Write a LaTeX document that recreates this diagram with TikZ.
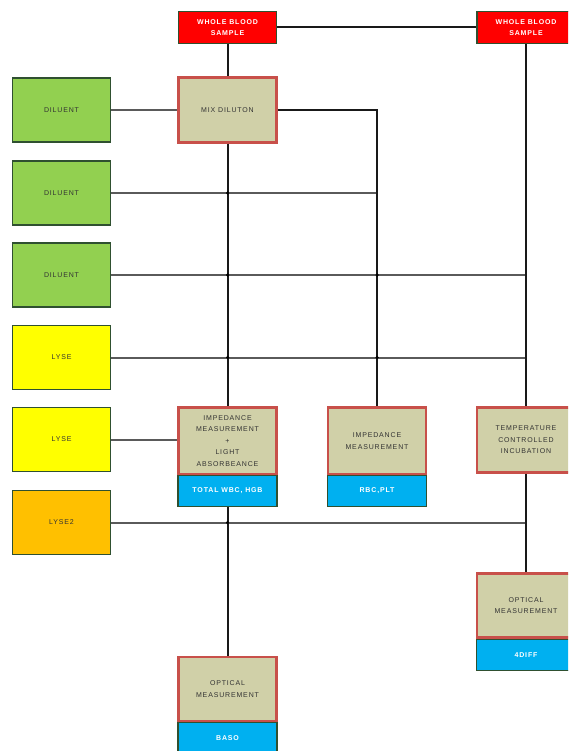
\documentclass[tikz,border=0pt]{standalone}
\usepackage{fontspec}
\setmainfont{Liberation Sans}
\newfontfamily\boxfont[LetterSpace=12]{Liberation Sans}
\definecolor{cred}{HTML}{FF0000}
\definecolor{cgreen}{HTML}{92D050}
\definecolor{cyellow}{HTML}{FFFF00}
\definecolor{corange}{HTML}{FFC000}
\definecolor{cbeige}{HTML}{D0D0A8}
\definecolor{cblue}{HTML}{00B0F0}
\definecolor{cframe}{HTML}{C8504A}
\definecolor{cdark}{HTML}{2F5030}
\definecolor{cline}{HTML}{5A5A5A}
\tikzset{
  every picture/.style={x=1pt, y=-1pt},
  every node/.style={font=\boxfont\fontsize{7}{11.5}\selectfont, align=center, inner sep=1pt},
  reagent/.style={draw=cdark, fill=#1, line width=1.3pt, text=black!80, minimum width=98pt, minimum height=64pt},
  sample/.style={draw=cdark, fill=cred, line width=1.3pt, text=white, font=\boxfont\fontsize{7}{11.5}\selectfont\bfseries, minimum width=98pt, minimum height=32pt},
  stage/.style={draw=cframe, fill=cbeige, line width=2.2pt, text=black!80, minimum width=98pt, minimum height=#1},
  stage/.default=64pt,
  result/.style={draw=cdark, fill=cblue, line width=1.3pt, text=white, font=\boxfont\fontsize{7}{11.5}\selectfont\bfseries, minimum width=99pt, minimum height=31pt},
  feed/.style={draw=cline, line width=2pt},
  link/.style={draw=black!90, line width=2pt},
  joint/.style={circle, fill=black, inner sep=0pt, minimum size=3.5pt},
}
\begin{document}
\begin{tikzpicture}
  \useasboundingbox (0,0) rectangle (568,751);
  \clip (0,0) rectangle (568,751);
  % samples on top
  \node[sample] (wbL) at (227.5,27.5) {WHOLE BLOOD\\SAMPLE};
  \node[sample] (wbR) at (526,27.5) {WHOLE BLOOD\\SAMPLE};
  % reagents on the left
  \node[reagent=cgreen] (dilA) at (61.5,110) {DILUENT};
  \node[reagent=cgreen] (dilB) at (61.5,193) {DILUENT};
  \node[reagent=cgreen] (dilC) at (61.5,275) {DILUENT};
  \node[reagent=cyellow] (lyseA) at (61.5,357.5) {LYSE};
  \node[reagent=cyellow] (lyseB) at (61.5,439.5) {LYSE};
  \node[reagent=corange] (lyseC) at (61.5,522.5) {LYSE2};
  % processing stages
  \node[stage=65pt] (mix) at (227.5,110) {MIX DILUTON};
  \node[stage=67pt] (impL) at (227.5,441) {IMPEDANCE\\MEASUREMENT\\+\\LIGHT\\ABSORBEANCE};
  \node[result] (resL) at (227.5,491) {TOTAL WBC, HGB};
  \node[stage=67pt] (impM) at (377,441) {IMPEDANCE\\MEASUREMENT};
  \node[result] (resM) at (377,491) {RBC,PLT};
  \node[stage=65pt] (incub) at (526,440) {TEMPERATURE\\CONTROLLED\\INCUBATION};
  \node[stage] (optR) at (526,605.5) {OPTICAL\\MEASUREMENT};
  \node[result] (resR) at (526,655) {4DIFF};
  \node[stage] (optL) at (227.5,689) {OPTICAL\\MEASUREMENT};
  \node[result] (resLo) at (227.5,738) {BASO};
  % reagent lines
  \draw[feed] (dilA.east) -- (mix.west |- dilA.east);
  \draw[feed] (dilB.east) -- (impM.north |- dilB.east);
  \draw[feed] (dilC.east) -- (incub.north |- dilC.east);
  \draw[feed] (lyseA.east) -- (incub.north |- lyseA.east);
  \draw[feed] (lyseB.east) -- (impL.west |- lyseB.east);
  \draw[feed] (lyseC.east) -- (optR.north |- lyseC.east);
  % sample lines
  \draw[link] (wbL.east) -- (wbR.west);
  \draw[link] (wbL.south) -- (mix.north);
  \draw[link] (mix.south) -- (impL.north);
  \draw[link] (mix.east) -| (impM.north);
  \draw[link] (wbR.south) -- (incub.north);
  \draw[link] (incub.south) -- (optR.north);
  \draw[link] (resL.south) -- (optL.north);
  % crossings
  \foreach \r in {dilB, dilC, lyseA, lyseC} {
    \node[joint] (jL\r) at (mix.south |- \r.east) {};
  }
  \foreach \r in {dilC, lyseA} {
    \node[joint] (jM\r) at (impM.north |- \r.east) {};
  }
\end{tikzpicture}
\end{document}
